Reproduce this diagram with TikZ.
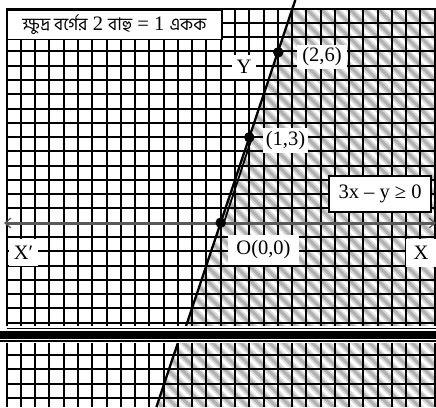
\documentclass[tikz,border=0pt]{standalone}
\usepackage{fontspec}
\setmainfont{Liberation Serif}
\newfontfamily\bnfont[Script=Bengali]{Hind Siliguri}
\usetikzlibrary{arrows.meta}
\newcommand\lblsize{\fontsize{20.5}{24}\selectfont}
\newcommand\bnsize{\fontsize{17.5}{20}\selectfont}
\tikzset{
  gridline/.style={line width=2.6pt, black},
  stripeA/.style={line width=7pt, black!14},
  stripeB/.style={line width=3.2pt, black!30},
  graphline/.style={line width=2.3pt, black},
  axisline/.style={line width=3pt, black!65, arrows={Straight Barb[length=6pt,width=10pt,line width=1.2pt]-Straight Barb[length=6pt,width=10pt,line width=1.2pt]}},
  dot/.style={circle, fill=black, inner sep=0pt, minimum size=10.5pt},
  lbl/.style={fill=white, inner sep=0pt, font=\lblsize},
  boxlbl/.style={fill=white, draw=black, line width=1.8pt, inner sep=0pt, font=\lblsize},
  bandthin/.style={line width=1.8pt, black},
  bandthick/.style={line width=7.5pt, black}
}
\begin{document}
\begin{tikzpicture}[x=1pt,y=-1pt]
\useasboundingbox (0,0) rectangle (436,407);
\fill[white] (0,0) rectangle (436,407);
\def\s{14.27}
% shaded region (3x - y >= 0), upper part
\begin{scope}
  \clip (292.3,9) -- (436,9) -- (436,328) -- (185.4,328) -- cycle;
  \foreach \k in {-31,...,33} \draw[stripeA] ({-2+\k*\s},0) -- ++(430,430);
  \foreach \k in {-31,...,33} \draw[stripeB] ({-2+\k*\s},0) -- ++(430,430);
\end{scope}
% shaded region, lower part
\begin{scope}
  \clip (178,343) -- (436,343) -- (436,407) -- (156.5,407) -- cycle;
  \foreach \k in {-31,...,33} \draw[stripeA] ({-2+\k*\s},0) -- ++(430,430);
  \foreach \k in {-31,...,33} \draw[stripeB] ({-2+\k*\s},0) -- ++(430,430);
\end{scope}
% grid
\foreach \k in {-15,...,15} \draw[gridline] ({round(220.7+\k*\s)},9) -- ({round(220.7+\k*\s)},407);
\foreach \k in {-15,...,7} \draw[gridline] (6,{round(222.7+\k*\s)}) -- (436,{round(222.7+\k*\s)});
\foreach \y in {355,369,384,398} \draw[gridline] (6,\y) -- (436,\y);
% x-axis
\coordinate (XL) at (4,223);
\coordinate (XR) at (436,223);
\draw[axisline] (XL) -- (XR);
% graph line 3x - y = 0
\coordinate (O) at (220.7,222.7);
\coordinate (P1) at (249.3,137.3);
\coordinate (P2) at (278.3,52.3);
\coordinate (Ltop) at (295.3,0);
\coordinate (Lband) at (185.4,328);
\coordinate (Lb2) at (177.8,343);
\coordinate (Lbot) at (156.4,407);
\draw[graphline] (Ltop) -- (Lband);
\draw[graphline] (Lb2) -- (Lbot);
\draw[line width=1.8pt] ([xshift=2.8pt]P1) -- ([xshift=3.2pt]O);
% break band
\fill[white] (0,326.3) rectangle (436,343);
\draw[bandthin] (6.7,328.5) -- (436,328.5);
\draw[bandthick] (0,335) -- (436,335);
\draw[bandthin] (0,341.2) -- (436,341.2);
% points
\node[dot] (dO) at (O) {};
\node[dot] (d1) at (P1) {};
\node[dot] (d2) at (P2) {};
% labels
\node[lbl, minimum width=24pt, minimum height=24pt] (ylab) at (244,67) {Y};
\node[lbl, minimum width=50pt, minimum height=24pt] (l26) at (322,56.5) {(2,6)};
\node[lbl, minimum width=45pt, minimum height=25pt] (l13) at (285.5,140.5) {(1,3)};
\node[lbl, minimum width=71pt, minimum height=30pt] (lO) at (263.5,250) {O(0,0)};
\node[lbl, minimum width=30pt, minimum height=28pt] (lX) at (421,253) {X};
\node[lbl, minimum width=29pt, minimum height=27pt] (lXp) at (23.5,252.5) {X′};
\node[boxlbl, minimum width=102pt, minimum height=36pt] (ineq) at (380,194) {3x – y ≥ 0};
\node[boxlbl, minimum width=215.3pt, minimum height=29.5pt] (scale) at (114.35,24.75)
  {{\bnfont\bnsize ক্ষুদ্র বর্গের} 2 {\bnfont\bnsize বাহু} = 1 {\bnfont\bnsize একক}};
\end{tikzpicture}
\end{document}
